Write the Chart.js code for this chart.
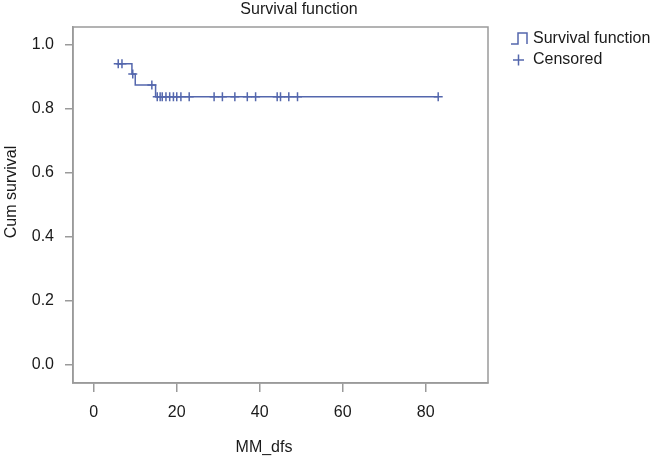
<!DOCTYPE html>
<html>
<head>
<meta charset="utf-8">
<script src="https://cdn.jsdelivr.net/npm/chart.js@4"></script>
<style>
  html, body { margin: 0; padding: 0; background: #fff; }
  #wrap { width: 655px; height: 458px; position: relative; }
</style>
</head>
<body>
<div id="wrap"><canvas id="km"></canvas></div>
<script>
// Step curve (time, cumulative survival)
const survTimes = [5.4, 9.2, 10.0, 14.9, 83.0];
const survValues = [0.941, 0.909, 0.875, 0.838, 0.838];

// Censored cases
const censorTimes = [5.9, 6.8, 9.4, 14.0, 15.3, 16.0, 16.5, 17.4, 18.3, 19.2, 20.0, 21.0, 23.0,
  29.0, 31.0, 34.0, 37.0, 39.0, 44.2, 45.0, 47.0, 49.1, 83.0];
const censorValues = [0.941, 0.941, 0.909, 0.875, 0.838, 0.838, 0.838, 0.838, 0.838, 0.838, 0.838,
  0.838, 0.838, 0.838, 0.838, 0.838, 0.838, 0.838, 0.838, 0.838, 0.838, 0.838, 0.838];

const xTicks = [0, 20, 40, 60, 80];
const yTicks = [0.0, 0.2, 0.4, 0.6, 0.8, 1.0];

const lineColor = "#5467ad";
const boxColor = "#9a9a9a";
const textColor = "#1a1a1a";
const fontFamily = "'Liberation Sans', Arial, Helvetica, sans-serif";

// Box round the plot, titles and legend
const decorations = {
  id: "decorations",
  beforeDatasetsDraw(chart) {
    const { ctx, chartArea: a } = chart;
    ctx.save();
    ctx.strokeStyle = boxColor;
    ctx.lineWidth = 1.5;
    ctx.strokeRect(a.left, a.top, a.right - a.left, a.bottom - a.top);
    ctx.restore();
  },
  afterDraw(chart) {
    const { ctx } = chart;
    ctx.save();
    ctx.fillStyle = textColor;
    ctx.font = "16px " + fontFamily;
    ctx.textBaseline = "middle";
    ctx.textAlign = "center";
    ctx.fillText("Survival function", 299, 10);
    ctx.fillText("MM_dfs", 264, 448);

    ctx.save();
    ctx.translate(12, 192);
    ctx.rotate(-Math.PI / 2);
    ctx.fillText("Cum survival", 0, 0);
    ctx.restore();

    // legend
    ctx.textAlign = "left";
    ctx.fillText("Survival function", 533, 39);
    ctx.fillText("Censored", 533, 60);
    ctx.strokeStyle = lineColor;
    ctx.lineWidth = 1.5;
    ctx.beginPath();
    ctx.moveTo(511, 44);
    ctx.lineTo(518, 44);
    ctx.lineTo(518, 33);
    ctx.lineTo(527, 33);
    ctx.lineTo(527, 44);
    ctx.stroke();
    ctx.beginPath();
    ctx.moveTo(513, 60);
    ctx.lineTo(524, 60);
    ctx.moveTo(518.5, 54.5);
    ctx.lineTo(518.5, 65.5);
    ctx.stroke();
    ctx.restore();
  }
};

new Chart(document.getElementById("km"), {
  type: "line",
  data: {
    datasets: [
      {
        label: "Survival function",
        data: survTimes.map((t, i) => ({ x: t, y: survValues[i] })),
        borderColor: lineColor,
        backgroundColor: lineColor,
        borderWidth: 1.5,
        stepped: true,
        pointRadius: 0,
        fill: false,
      },
      {
        label: "Censored",
        type: "scatter",
        data: censorTimes.map((t, i) => ({ x: t, y: censorValues[i] })),
        borderColor: lineColor,
        backgroundColor: lineColor,
        pointStyle: "cross",
        pointRadius: 4.5,
        borderWidth: 1.5,
        showLine: false,
      },
    ],
  },
  options: {
    responsive: true,
    maintainAspectRatio: false,
    animation: false,
    layout: { padding: { top: 27, right: 167, left: 0, bottom: 0 } },
    plugins: {
      legend: { display: false },
      title: { display: false },
      tooltip: { enabled: false },
    },
    scales: {
      x: {
        type: "linear",
        min: -5,
        max: 95,
        afterBuildTicks: (s) => { s.ticks = xTicks.map((v) => ({ value: v })); },
        afterFit: (s) => { s.height = 75; },
        grid: { display: true, drawOnChartArea: false, drawTicks: true, tickLength: 9, color: boxColor, lineWidth: 1.5 },
        border: { display: true, color: boxColor, width: 1.5 },
        ticks: { color: textColor, font: { size: 16, family: fontFamily }, padding: 11, maxRotation: 0 },
      },
      y: {
        type: "linear",
        min: -0.056,
        max: 1.056,
        afterBuildTicks: (s) => { s.ticks = yTicks.map((v) => ({ value: v })); },
        afterFit: (s) => { s.width = 73; },
        grid: { display: true, drawOnChartArea: false, drawTicks: true, tickLength: 8, color: boxColor, lineWidth: 1.5 },
        border: { display: true, color: boxColor, width: 1.5 },
        ticks: { color: textColor, font: { size: 16, family: fontFamily }, padding: 11, callback: (v) => v.toFixed(1) },
      },
    },
  },
  plugins: [decorations],
});
</script>
</body>
</html>
